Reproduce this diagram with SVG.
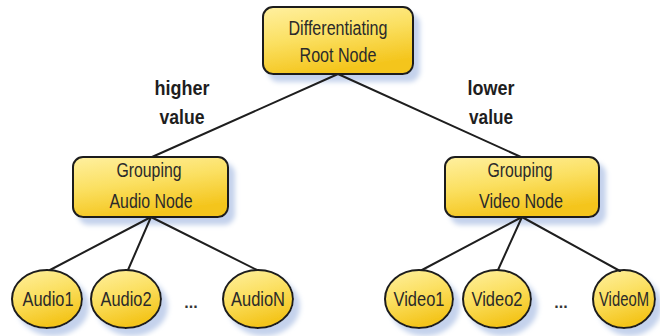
<svg xmlns="http://www.w3.org/2000/svg" width="660" height="336" viewBox="0 0 660 336">
  <defs>
    <linearGradient id="fillGold" x1="0" y1="0" x2="0.35" y2="1">
      <stop offset="0" stop-color="#fff0a0"/>
      <stop offset="0.5" stop-color="#fbe062"/>
      <stop offset="1" stop-color="#f4c51c"/>
    </linearGradient>
    <filter id="dropShadow" x="-20%" y="-20%" width="150%" height="160%">
      <feGaussianBlur in="SourceAlpha" stdDeviation="2.5" result="blur"/>
      <feOffset in="blur" dx="6" dy="7" result="off"/>
      <feFlood flood-color="#c4d2ec"/>
      <feComposite in2="off" operator="in" result="shadow"/>
      <feMerge>
        <feMergeNode in="shadow"/>
        <feMergeNode in="SourceGraphic"/>
      </feMerge>
    </filter>
  </defs>
  <style>
    .box { fill: url(#fillGold); stroke: #1e1e1e; stroke-width: 2; filter: url(#dropShadow); }
    .leaf { fill: url(#fillGold); stroke: #1e1e1e; stroke-width: 2; filter: url(#dropShadow); }
    .lbl { font-family: "Liberation Sans", Arial, sans-serif; font-size: 20px; fill: #2a2a2a; text-anchor: middle; }
    .edge { font-family: "Liberation Sans", Arial, sans-serif; font-size: 21px; font-weight: bold; fill: #1e1e1e; text-anchor: middle; }
    .dots { font-family: "Liberation Sans", Arial, sans-serif; font-size: 16px; font-weight: bold; fill: #333; text-anchor: middle; }
    .wire { stroke: #1e1e1e; stroke-width: 2; fill: none; stroke-linecap: round; }
  </style>

  <rect width="660" height="336" fill="#ffffff"/>

  <g id="nodes">
    <g id="root">
      <rect class="box" x="263" y="7" width="150" height="67" rx="10"/>
      <text class="lbl" x="338" y="35" textLength="99" lengthAdjust="spacingAndGlyphs">Differentiating</text>
      <text class="lbl" x="338" y="62" textLength="77" lengthAdjust="spacingAndGlyphs">Root Node</text>
    </g>
    <g id="audio-group">
      <rect class="box" x="73" y="157" width="155" height="60" rx="10"/>
      <text class="lbl" x="149" y="177" textLength="65" lengthAdjust="spacingAndGlyphs">Grouping</text>
      <text class="lbl" x="151" y="208" textLength="83" lengthAdjust="spacingAndGlyphs">Audio Node</text>
    </g>
    <g id="video-group">
      <rect class="box" x="445" y="157" width="154" height="60" rx="10"/>
      <text class="lbl" x="520" y="177" textLength="65" lengthAdjust="spacingAndGlyphs">Grouping</text>
      <text class="lbl" x="521" y="208" textLength="84" lengthAdjust="spacingAndGlyphs">Video Node</text>
    </g>
    <g id="audio1">
      <ellipse class="leaf" cx="47" cy="299" rx="35" ry="29"/>
      <text class="lbl" x="48" y="306" textLength="51" lengthAdjust="spacingAndGlyphs">Audio1</text>
    </g>
    <g id="audio2">
      <ellipse class="leaf" cx="126" cy="299" rx="35" ry="29"/>
      <text class="lbl" x="126" y="306" textLength="51" lengthAdjust="spacingAndGlyphs">Audio2</text>
    </g>
    <g id="audioN">
      <ellipse class="leaf" cx="258" cy="299" rx="35" ry="29"/>
      <text class="lbl" x="258" y="306" textLength="54" lengthAdjust="spacingAndGlyphs">AudioN</text>
    </g>
    <g id="video1">
      <ellipse class="leaf" cx="419" cy="299" rx="34" ry="29"/>
      <text class="lbl" x="419" y="306" textLength="51" lengthAdjust="spacingAndGlyphs">Video1</text>
    </g>
    <g id="video2">
      <ellipse class="leaf" cx="497" cy="299" rx="34" ry="29"/>
      <text class="lbl" x="497" y="306" textLength="51" lengthAdjust="spacingAndGlyphs">Video2</text>
    </g>
    <g id="videoM">
      <ellipse class="leaf" cx="624" cy="299" rx="31" ry="29"/>
      <text class="lbl" x="624" y="306" textLength="50" lengthAdjust="spacingAndGlyphs">VideoM</text>
    </g>
    <text class="dots" x="191" y="308">...</text>
    <text class="dots" x="561" y="308">...</text>
  </g>

  <g id="connectors">
    <line class="wire" x1="338" y1="74" x2="152" y2="157"/>
    <line class="wire" x1="338" y1="74" x2="521" y2="157"/>
    <line class="wire" x1="151" y1="217" x2="50" y2="270"/>
    <line class="wire" x1="151" y1="217" x2="128" y2="270"/>
    <line class="wire" x1="151" y1="217" x2="257" y2="270"/>
    <line class="wire" x1="522" y1="217" x2="422" y2="270"/>
    <line class="wire" x1="522" y1="217" x2="498" y2="270"/>
    <line class="wire" x1="522" y1="217" x2="620" y2="271"/>
    <text class="edge" x="182" y="95" textLength="55" lengthAdjust="spacingAndGlyphs">higher</text>
    <text class="edge" x="182" y="124" textLength="45" lengthAdjust="spacingAndGlyphs">value</text>
    <text class="edge" x="491" y="95" textLength="47" lengthAdjust="spacingAndGlyphs">lower</text>
    <text class="edge" x="491" y="124" textLength="44" lengthAdjust="spacingAndGlyphs">value</text>
  </g>
</svg>
